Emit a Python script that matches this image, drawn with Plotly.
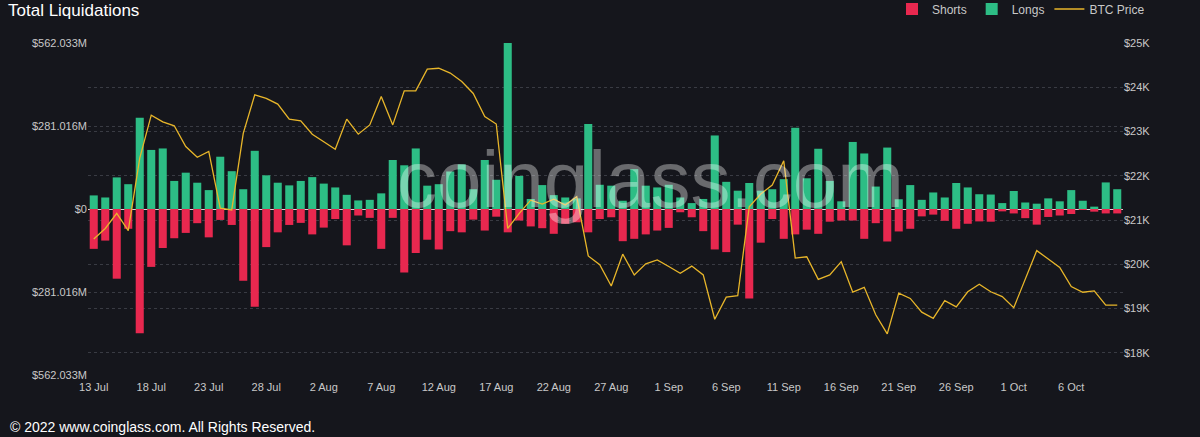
import plotly.graph_objects as go
import pandas as pd

# ---- data ----
dates = pd.date_range("2022-07-13", periods=90, freq="D")

longs_m = [46, 39, 107, 84, 309, 200, 205, 95, 123, 89,
           64, 177, 128, 67, 197, 114, 89, 80, 95, 108,
           86, 73, 48, 29, 31, 53, 166, 148, 205, 79,
           84, 127, 151, 67, 166, 99, 562.033, 112, 34, 81,
           47, 39, 36, 288, 82, 79, 28, 135, 79, 73,
           82, 39, 20, 34, 249, 92, 62, 88, 62, 67,
           101, 275, 104, 204, 95, 26, 227, 188, 76, 208,
           33, 81, 31, 56, 39, 88, 73, 50, 49, 20,
           61, 22, 18, 36, 26, 64, 28, 8, 90, 67]

shorts_m = [135, 107, 236, 67, 421, 196, 132, 99, 81, 48,
            96, 37, 54, 243, 331, 129, 79, 54, 47, 86,
            63, 34, 123, 22, 30, 135, 30, 215, 149, 104,
            137, 75, 79, 36, 73, 26, 79, 39, 59, 65,
            84, 50, 45, 79, 34, 28, 109, 101, 86, 73,
            64, 11, 28, 75, 137, 146, 53, 303, 114, 34,
            101, 86, 70, 84, 43, 39, 39, 101, 48, 110,
            76, 67, 25, 19, 40, 67, 50, 42, 43, 8,
            15, 31, 53, 27, 22, 17, 3, 9, 15, 15]

btc_k = [20.57, 20.81, 21.15, 20.76, 22.40, 23.37, 23.22, 23.13, 22.66, 22.42,
         22.55, 21.27, 21.23, 22.96, 23.83, 23.75, 23.62, 23.28, 23.24, 22.94,
         22.77, 22.60, 23.28, 22.94, 23.15, 23.79, 23.15, 23.92, 23.92, 24.41,
         24.43, 24.32, 24.13, 23.86, 23.34, 23.17, 20.81, 21.15, 21.45, 21.36,
         21.47, 21.34, 21.53, 20.19, 19.99, 19.51, 20.23, 19.76, 20.01, 20.10,
         19.95, 19.80, 19.96, 19.76, 18.76, 19.26, 19.29, 21.30, 21.59, 21.79,
         22.34, 20.14, 20.17, 19.66, 19.76, 20.06, 19.37, 19.48, 18.86, 18.43,
         19.35, 19.23, 18.92, 18.78, 19.18, 19.04, 19.38, 19.55, 19.38, 19.27,
         19.02, 19.65, 20.31, 20.12, 19.93, 19.50, 19.37, 19.40, 19.08, 19.08]

x_tick_labels = ["13 Jul", "18 Jul", "23 Jul", "28 Jul", "2 Aug", "7 Aug", "12 Aug",
                 "17 Aug", "22 Aug", "27 Aug", "1 Sep", "6 Sep", "11 Sep", "16 Sep",
                 "21 Sep", "26 Sep", "1 Oct", "6 Oct"]
x_tick_vals = list(dates[::5])

left_tick_vals = [-562.033, -281.016, 0, 281.016, 562.033]
left_tick_text = ["$562.033M", "$281.016M", "$0", "$281.016M", "$562.033M"]

right_tick_vals = [18, 19, 20, 21, 22, 23, 24, 25]
right_tick_text = ["$18K", "$19K", "$20K", "$21K", "$22K", "$23K", "$24K", "$25K"]

# ---- styles ----
BG = "#15161c"
RED = "#e8284f"
GREEN = "#2dbd85"
GOLD = "#e8b62a"
GRID = "#393b43"
TXT = "#c8c8c8"
FONT = "Liberation Sans, Arial, sans-serif"

fig = go.Figure()
fig.add_trace(go.Bar(x=dates, y=[-v for v in shorts_m], name="Shorts",
                     marker=dict(color=RED, line=dict(width=0))))
fig.add_trace(go.Bar(x=dates, y=longs_m, name="Longs",
                     marker=dict(color=GREEN, line=dict(width=0))))
fig.add_trace(go.Scatter(x=dates, y=btc_k, name="BTC Price", mode="lines",
                         line=dict(color=GOLD, width=1.3), yaxis="y2"))

fig.update_layout(
    width=1200, height=437,
    margin=dict(l=88, r=77, t=43, b=62, autoexpand=False),
    paper_bgcolor=BG, plot_bgcolor=BG,
    font=dict(family=FONT, color=TXT, size=11),
    barmode="relative", bargap=0.3,
    showlegend=True,
    title=dict(text="Total Liquidations", font=dict(size=17, color="#ffffff", family=FONT),
               xref="container", x=8 / 1200, xanchor="left",
               yref="container", y=1 - 10 / 437, yanchor="middle"),
    legend=dict(orientation="h", xref="container", x=1150 / 1200, xanchor="right",
                yref="container", y=1 - 9 / 437, yanchor="middle",
                bgcolor="rgba(0,0,0,0)", font=dict(size=12, color=TXT),
                itemwidth=30, traceorder="normal"),
    xaxis=dict(type="date",
               range=[dates[0] - pd.Timedelta(hours=12), dates[-1] + pd.Timedelta(hours=12)],
               tickvals=x_tick_vals, ticktext=x_tick_labels,
               showgrid=False, showline=False, zeroline=False, ticks="",
               tickfont=dict(size=11, color=TXT), ticklabelstandoff=4),
    yaxis=dict(range=[-562.033, 562.033], tickvals=left_tick_vals, ticktext=left_tick_text,
               showgrid=True, gridcolor=GRID, griddash="3px,3px", gridwidth=1,
               zeroline=True, zerolinecolor="#d8d8d8", zerolinewidth=1,
               showline=False, ticks="", tickfont=dict(size=11, color=TXT)),
    yaxis2=dict(overlaying="y", side="right", range=[17.5, 25],
                tickvals=right_tick_vals, ticktext=right_tick_text,
                showgrid=True, gridcolor=GRID, griddash="3px,3px", gridwidth=1,
                zeroline=False, showline=False, ticks="",
                tickfont=dict(size=11, color=TXT)),
    hovermode=False,
)

# watermark
fig.add_annotation(text="coinglass.com", xref="paper", yref="paper",
                   x=(650 - 88) / 1035, y=(375 - 179) / 332,
                   xanchor="center", yanchor="middle", showarrow=False,
                   font=dict(size=80, color="rgba(255,255,255,0.36)", family=FONT))
# footer
fig.add_annotation(text="© 2022 www.coinglass.com. All Rights Reserved.",
                   xref="paper", yref="paper",
                   x=(8 - 88) / 1035, y=(375 - 427) / 332,
                   xanchor="left", yanchor="middle", showarrow=False,
                   font=dict(size=14, color="#ffffff", family=FONT))

fig.write_html("out.html", config={"displayModeBar": False},
               post_script="document.body.style.margin='0';document.body.style.overflow='hidden';")
